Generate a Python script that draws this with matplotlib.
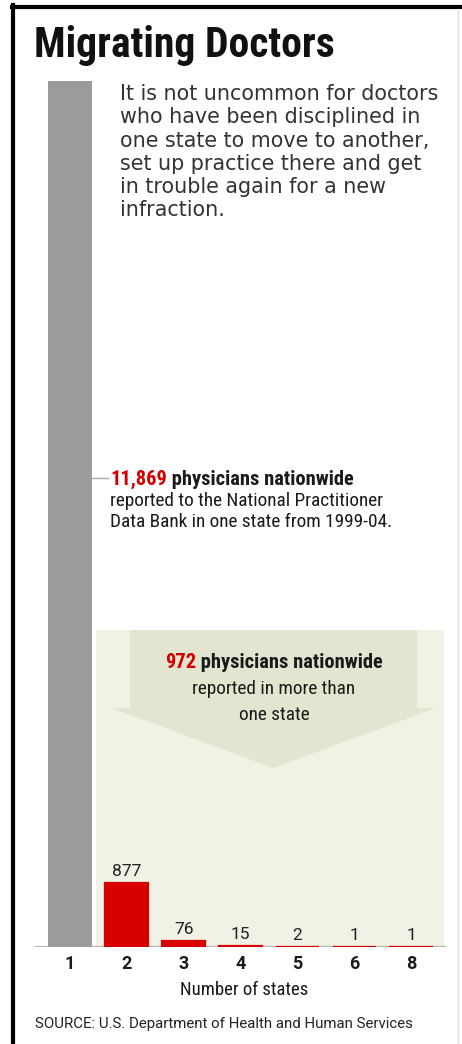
import matplotlib
matplotlib.use("Agg")
import matplotlib.pyplot as plt
from matplotlib.patches import Polygon, Rectangle
from matplotlib.lines import Line2D

# ---- data ----
states = ["1", "2", "3", "4", "5", "6", "8"]
physicians = [11869, 877, 76, 15, 2, 1, 1]
title = "Migrating Doctors"
intro_lines = ["It is not uncommon for doctors", "who have been disciplined in",
               "one state to move to another,", "set up practice there and get",
               "in trouble again for a new", "infraction."]
note1_num = "11,869"
note1_bold = " physicians nationwide"
note1_rest = ["reported to the National Practitioner", "Data Bank in one state from 1999-04."]
note2_num = "972"
note2_bold = " physicians nationwide"
note2_rest = ["reported in more than", "one state"]
xlabel = "Number of states"
source = "SOURCE: U.S. Department of Health and Human Services"

W, H = 462, 1044
fig = plt.figure(figsize=(W / 100, H / 100), dpi=100)
fig.patch.set_facecolor("white")

def fx(x):
    return x / W

def fy(y):
    return 1 - y / H

COND = ["Roboto Condensed", "DejaVu Sans"]
ROBO = ["Roboto", "DejaVu Sans"]
WIDE = ["DejaVu Sans"]
INK = "#1a1a1a"

# background shaded panel and arrow (decorative)
fig.patches.append(Rectangle((fx(96), fy(947)), fx(444) - fx(96), fy(630) - fy(947),
                             transform=fig.transFigure, facecolor="#f1f1e5", edgecolor="none", zorder=-2))
arrow = [(130, 630), (417, 630), (417, 708), (436, 708), (273, 768), (112, 708), (130, 708)]
fig.patches.append(Polygon([(fx(x), fy(y)) for x, y in arrow], closed=True, transform=fig.transFigure,
                           facecolor="#e4e5d0", edgecolor="none", zorder=-1))

# axes for bars
x_left, x_right = 34.8, 446.2
ax = fig.add_axes([fx(x_left), fy(947), fx(x_right) - fx(x_left), fy(81) - fy(947)])
ax.set_facecolor("none")
xs = list(range(len(states)))
ax.bar(xs[:1], physicians[:1], width=0.76, color="#9b9b9b", zorder=3)
red = ax.bar(xs[1:], physicians[1:], width=0.76, color="#d90000", edgecolor="#d90000",
             linewidth=1.6, zorder=3)
ax.bar_label(red, labels=[str(v) for v in physicians[1:]], padding=3,
             fontsize=12.5, family=ROBO, color="#222222")
ax.axhline(0, color="#b5b5b5", lw=1.6, zorder=2)
ax.set_xlim(-0.62, 6.62)
ax.set_ylim(0, max(physicians))
for s in ax.spines.values():
    s.set_visible(False)
ax.set_yticks([])
ax.set_xticks(xs)
ax.set_xticklabels(states, fontsize=13, fontweight="bold", family=ROBO, color=INK)
ax.tick_params(axis="x", length=0, pad=6)

fig.text(fx(244), fy(995), xlabel, fontsize=13.5, family=COND, color=INK,
         va="baseline", ha="center")

# borders
fig.lines.append(Line2D([fx(13), fx(13)], [fy(5), 0], transform=fig.transFigure, color="black", lw=3))
fig.lines.append(Line2D([fx(11.5), 1], [fy(7), fy(7)], transform=fig.transFigure, color="black", lw=3))
fig.lines.append(Line2D([fx(458), fx(458)], [fy(9), 0], transform=fig.transFigure, color="#dddddd", lw=1))

# title
fig.text(fx(34), fy(57), title, fontsize=30, fontweight="bold", family=COND, color="#111111",
         va="baseline", ha="left")

# intro
for i, line in enumerate(intro_lines):
    fig.text(fx(120), fy(100 + 23.3 * i), line, fontsize=14.9, family=WIDE, color="#333333",
             va="baseline", ha="left")

fig.canvas.draw()
r = fig.canvas.get_renderer()

def width_px(t):
    return t.get_window_extent(renderer=r).width

BOLD_SZ = 14.8
REG_SZ = 13.9

# note 1 with leader line
fig.lines.append(Line2D([fx(92), fx(108)], [fy(478), fy(478)], transform=fig.transFigure,
                        color="#aaaaaa", lw=1))
t1 = fig.text(fx(110), fy(485), note1_num, fontsize=BOLD_SZ, fontweight="bold", family=COND,
              color="#d40000", va="baseline", ha="left")
w1 = width_px(t1)
fig.text(fx(110 + w1), fy(485), note1_bold, fontsize=BOLD_SZ, fontweight="bold", family=COND,
         color=INK, va="baseline", ha="left")
for i, line in enumerate(note1_rest):
    fig.text(fx(110), fy(506 + 21 * i), line, fontsize=REG_SZ, family=COND, color=INK,
             va="baseline", ha="left")

# note 2 centered
a = fig.text(0, 0, note2_num, fontsize=BOLD_SZ, fontweight="bold", family=COND, color="#d40000",
             va="baseline", ha="left")
b = fig.text(0, 0, note2_bold, fontsize=BOLD_SZ, fontweight="bold", family=COND, color=INK,
             va="baseline", ha="left")
wa, wb = width_px(a), width_px(b)
start = 274 - (wa + wb) / 2
a.set_position((fx(start), fy(668)))
b.set_position((fx(start + wa), fy(668)))
for i, line in enumerate(note2_rest):
    fig.text(fx(274), fy(694 + 26 * i), line, fontsize=REG_SZ, family=COND, color=INK,
             va="baseline", ha="center")

# source
fig.text(fx(35), fy(1028), source, fontsize=10.85, family=ROBO, color="#222222",
         va="baseline", ha="left")

fig.savefig("out.png", dpi=100, facecolor="white")
